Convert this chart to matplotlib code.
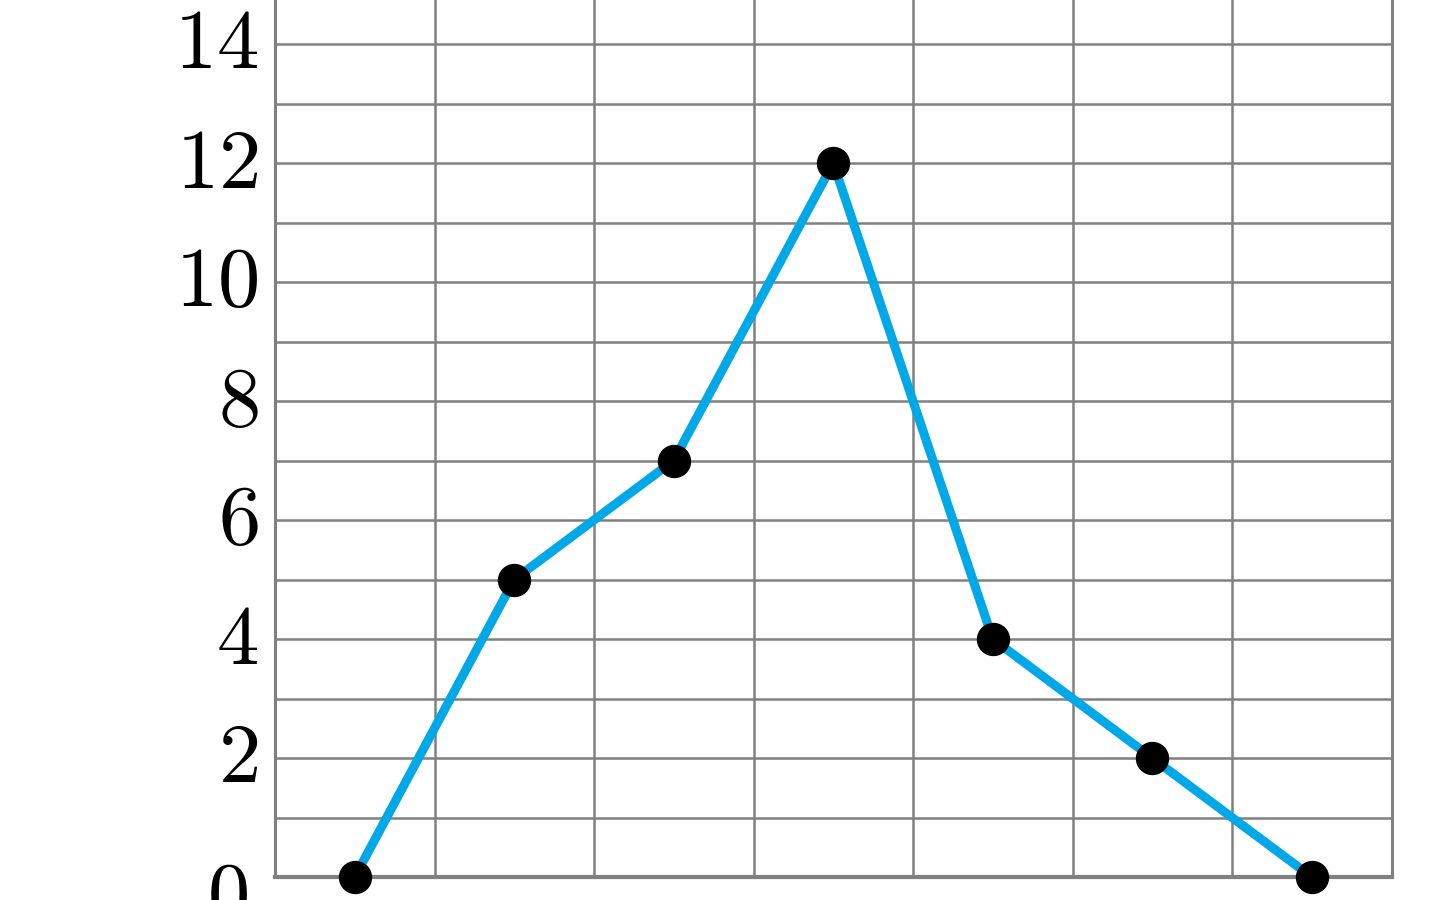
import matplotlib.pyplot as plt
import matplotlib.transforms as mtransforms

plt.rcParams['mathtext.fontset'] = 'cm'

# Data (class midpoints on a unit grid, frequencies)
x_mid = [0.5, 1.5, 2.5, 3.5, 4.5, 5.5, 6.5]
freq = [0, 5, 7, 12, 4, 2, 0]
x_ticks = [1, 2, 3, 4, 5, 6]
x_labels = ['1', '2', '3', '4', '5', '6']
y_ticks = [0, 2, 4, 6, 8, 10, 12, 14]

W, H = 1440, 900
fig = plt.figure(figsize=(14.4, 9), dpi=100)
# axes placed so the chart is cropped like the reference
left = 275 / W
width = (1391.5 - 275) / W
bottom = (H - 877) / H
height = 15 * 59.5 / H
ax = fig.add_axes([left, bottom, width, height])

ax.set_xlim(0, 7)
ax.set_ylim(0, 15)

grid_c = '#808080'
for gx in range(0, 8):
    ax.axvline(gx, color=grid_c, lw=1.8, zorder=1)
for gy in range(0, 16):
    ax.axhline(gy, color=grid_c, lw=1.8, zorder=1)

ax.plot(x_mid, freq, color='#00A8E8', lw=6.5, zorder=3, clip_on=False)
ax.plot(x_mid, freq, 'o', color='black', ms=23, zorder=4, clip_on=False)

ax.set_yticks(y_ticks[1:])
ax.set_yticklabels([f'${v}$' for v in y_ticks[1:]], fontsize=61)
ax.set_xticks(x_ticks)
ax.set_xticklabels([f'${v}$' for v in x_labels], fontsize=61, va='top')
ax.tick_params(axis='both', length=0)
ax.tick_params(axis='y', pad=12)
ax.tick_params(axis='x', pad=14)

# nudge y labels up a little so the digits sit centred on the grid lines
shift = mtransforms.ScaledTranslation(0, 8 / 100, fig.dpi_scale_trans)
for lab in ax.get_yticklabels():
    lab.set_transform(lab.get_transform() + shift)

# origin label
ax.text(-0.3, -0.35, '$0$', fontsize=61, ha='center', va='center',
        transform=ax.transData, clip_on=False)
ax.text(6.93, -0.4, '$x$', fontsize=61, ha='center', va='top', clip_on=False)

for side in ['left', 'right']:
    ax.spines[side].set_color(grid_c)
    ax.spines[side].set_linewidth(2.2)
ax.spines['bottom'].set_color(grid_c)
ax.spines['bottom'].set_linewidth(3)
ax.spines['top'].set_visible(False)

fig.savefig('out.png', dpi=100)
